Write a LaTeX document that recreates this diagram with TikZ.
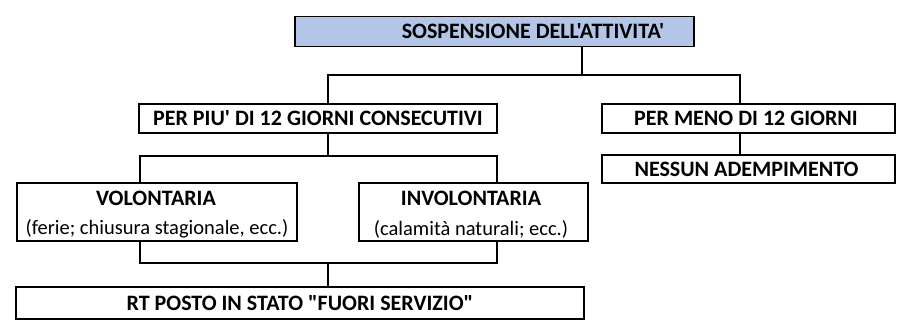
\documentclass[tikz,border=0pt]{standalone}
\usepackage{fontspec}
\setmainfont{Carlito}
\newfontfamily\calfont{Carlito}
\definecolor{topblue}{HTML}{B4C6E7}
\begin{document}
\begin{tikzpicture}[x=1pt,y=-1pt,
  box/.style={draw, line width=1.6pt, inner sep=0pt, outer sep=0pt},
  bt/.style={font=\calfont\bfseries\fontsize{22}{24}\selectfont, inner sep=0pt},
  st/.style={font=\calfont\fontsize{20.5}{22}\selectfont, inner sep=0pt},
  conn/.style={line width=1.6pt}]
\useasboundingbox (0,0) rectangle (909,332);
% boxes
\node[box, fill=topblue, minimum width=399pt, minimum height=30pt] (top) at (494.5,31.5) {};
\node[bt] (toptext) at (533,31.5) {SOSPENSIONE DELL'ATTIVITA'};
\node[box, minimum width=358pt, minimum height=29pt] (piu) at (318,118.5) {};
\node[bt] (piutext) at (318,118.5) {PER PIU' DI 12 GIORNI CONSECUTIVI};
\node[box, minimum width=293pt, minimum height=29pt] (meno) at (748.5,118.5) {};
\node[bt] (menotext) at (746,118.5) {PER MENO DI 12 GIORNI};
\node[box, minimum width=293pt, minimum height=28pt] (nessun) at (748.5,169) {};
\node[bt] (nessuntext) at (746.5,169) {NESSUN ADEMPIMENTO};
\node[box, minimum width=280pt, minimum height=58pt] (vol) at (157,212) {};
\node[bt] (voltext) at (156,198) {VOLONTARIA};
\node[st] (volsub) at (157,229) {(ferie; chiusura stagionale, ecc.)};
\node[box, minimum width=229pt, minimum height=58pt] (invol) at (473.5,212) {};
\node[bt] (involtext) at (471,198) {INVOLONTARIA};
\node[st] (involsub) at (471,229) {(calamità naturali; ecc.)};
\node[box, minimum width=568pt, minimum height=32pt] (rt) at (300,303) {};
\node[bt] (rttext) at (300,303) {RT POSTO IN STATO "FUORI SERVIZIO"};
% guide coordinates
\coordinate (xa) at (582,0);
\coordinate (xl) at (328,0);
\coordinate (xr) at (740,0);
\coordinate (xv) at (140,0);
\coordinate (xi) at (497,0);
\coordinate (y1) at (0,75);
\coordinate (y2) at (0,156);
\coordinate (y3) at (0,263);
% connectors
\draw[conn] (top.south -| xa) -- (xa |- y1) -| (piu.north -| xl);
\draw[conn] (xa |- y1) -| (meno.north -| xr);
\draw[conn] (meno.south -| xr) -- (nessun.north -| xr);
\draw[conn] (piu.south -| xl) -- (xl |- y2);
\draw[conn] (vol.north -| xv) |- (xi |- y2) -- (invol.north -| xi);
\draw[conn] (vol.south -| xv) |- (xi |- y3) -- (invol.south -| xi);
\draw[conn] (xl |- y3) -- (rt.north -| xl);
\end{tikzpicture}
\end{document}
